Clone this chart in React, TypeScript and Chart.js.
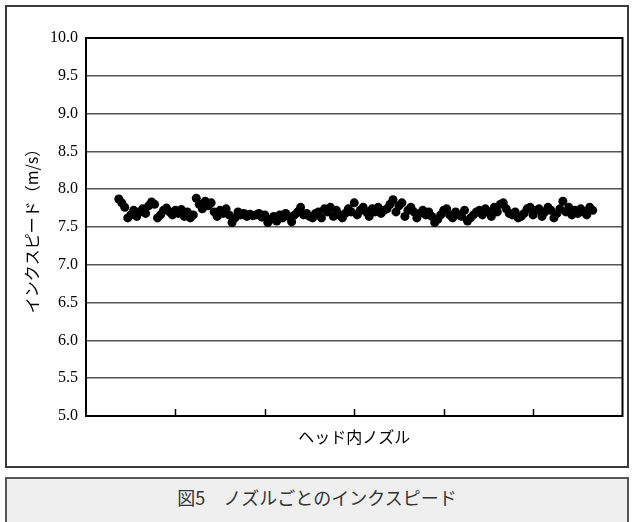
import React, { useEffect, useRef } from "react";
import { Chart, registerables } from "chart.js";

Chart.register(...registerables);

// ---- data ----
const firstNozzle = 11;
const inkSpeed: number[] = [
  7.87, 7.82, 7.76, 7.62, 7.66, 7.72, 7.64, 7.7, 7.74, 7.68,
  7.78, 7.83, 7.8, 7.62, 7.66, 7.72, 7.75, 7.7, 7.66, 7.72,
  7.68, 7.73, 7.64, 7.7, 7.62, 7.66, 7.88, 7.8, 7.74, 7.84,
  7.78, 7.82, 7.7, 7.64, 7.72, 7.68, 7.74, 7.66, 7.56, 7.62,
  7.7, 7.66, 7.68, 7.64, 7.67, 7.65, 7.66, 7.68, 7.63, 7.66,
  7.56, 7.6, 7.64, 7.58, 7.66, 7.62, 7.68, 7.64, 7.57, 7.66,
  7.7, 7.76, 7.66, 7.68, 7.64, 7.62, 7.68, 7.7, 7.62, 7.74,
  7.7, 7.76, 7.64, 7.72, 7.66, 7.62, 7.68, 7.74, 7.7, 7.82,
  7.66, 7.72, 7.76, 7.7, 7.64, 7.74, 7.7, 7.76, 7.68, 7.72,
  7.74, 7.8, 7.86, 7.7, 7.78, 7.82, 7.64, 7.72, 7.76, 7.7,
  7.62, 7.68, 7.72, 7.66, 7.7, 7.64, 7.56, 7.6, 7.66, 7.72,
  7.74, 7.66, 7.62, 7.7, 7.66, 7.64, 7.72, 7.58, 7.62, 7.66,
  7.7, 7.72, 7.66, 7.74, 7.7, 7.64, 7.76, 7.7, 7.8, 7.82,
  7.74, 7.68, 7.66, 7.7, 7.62, 7.64, 7.68, 7.74, 7.76, 7.66,
  7.72, 7.74, 7.64, 7.7, 7.76, 7.72, 7.62, 7.68, 7.74, 7.84,
  7.7, 7.76, 7.66, 7.72, 7.68, 7.74, 7.7, 7.66, 7.76, 7.72,
];
const xMin = 0;
const xMax = 180;
const xStep = 30;
const yMin = 5;
const yMax = 10;
const yStep = 0.5;
const yTitle = "インクスピード（m/s）";
const xTitle = "ヘッド内ノズル";
const caption = "図5　ノズルごとのインクスピード";

const frameAndTicks = {
  id: "frameAndTicks",
  afterDatasetsDraw(chart: any) {
    const { ctx, chartArea } = chart;
    const xs = chart.scales.x;
    ctx.save();
    ctx.strokeStyle = "#000";
    ctx.lineWidth = 1.5;
    xs.ticks.forEach((t: any) => {
      if (t.value <= xMin || t.value >= xMax) return;
      const px = Math.round(xs.getPixelForValue(t.value)) + 0.5;
      ctx.beginPath();
      ctx.moveTo(px, chartArea.bottom);
      ctx.lineTo(px, chartArea.bottom - 7);
      ctx.stroke();
    });
    ctx.lineWidth = 2;
    ctx.strokeRect(
      chartArea.left,
      chartArea.top,
      chartArea.right - chartArea.left,
      chartArea.bottom - chartArea.top
    );
    ctx.restore();
  },
};

export default function App() {
  const ref = useRef<HTMLCanvasElement>(null);
  useEffect(() => {
    if (!ref.current) return;
    const chart = new Chart(ref.current, {
      type: "scatter",
      data: {
        datasets: [
          {
            data: inkSpeed.map((v, i) => ({ x: firstNozzle + i, y: v })),
            backgroundColor: "#000",
            borderWidth: 0,
            pointRadius: 4.5,
            pointHoverRadius: 4.5,
          },
        ],
      },
      options: {
        animation: false,
        responsive: false,
        events: [],
        layout: { padding: { left: 0, right: 2, top: 31, bottom: 19.4 } },
        plugins: { legend: { display: false }, tooltip: { enabled: false } },
        scales: {
          x: {
            type: "linear",
            min: xMin,
            max: xMax,
            ticks: { display: false, stepSize: xStep },
            grid: { display: false, drawTicks: false },
            border: { display: false },
            title: {
              display: true,
              text: xTitle,
              color: "#000",
              font: { family: "'Noto Sans CJK JP', serif", size: 16 },
              padding: { top: 11.4, bottom: 0 },
            },
          },
          y: {
            min: yMin,
            max: yMax,
            afterFit: (s: any) => {
              s.width = 79;
            },
            ticks: {
              stepSize: yStep,
              padding: 8,
              color: "#000",
              font: { family: "'Liberation Serif', serif", size: 16 },
              callback: (v: any) => Number(v).toFixed(1),
            },
            grid: { color: "#555", lineWidth: 1.5, drawTicks: false },
            border: { display: false },
            title: {
              display: true,
              text: yTitle,
              color: "#000",
              font: { family: "'Noto Sans CJK JP', serif", size: 16 },
              padding: { top: 15, bottom: 0 },
            },
          },
        },
      },
      plugins: [frameAndTicks],
    });
    return () => chart.destroy();
  }, []);

  return (
    <div
      style={{
        position: "fixed",
        left: 0,
        top: 0,
        width: 634,
        height: 522,
        background: "#fff",
        overflow: "hidden",
      }}
    >
      <div
        style={{
          position: "absolute",
          left: 5,
          top: 5,
          width: 620,
          height: 459,
          border: "2px solid #3a3a3a",
        }}
      >
        <canvas ref={ref} width={620} height={459} style={{ display: "block" }} />
      </div>
      <div
        style={{
          position: "absolute",
          left: 5,
          top: 477,
          width: 620,
          height: 60,
          border: "2px solid #555",
          background: "#efefef",
          boxSizing: "content-box",
          textAlign: "center",
          fontFamily: "'Noto Sans CJK JP', sans-serif",
          fontSize: 18,
          lineHeight: "24px",
          paddingTop: 6,
          color: "#333",
        }}
      >
        {caption}
      </div>
    </div>
  );
}
